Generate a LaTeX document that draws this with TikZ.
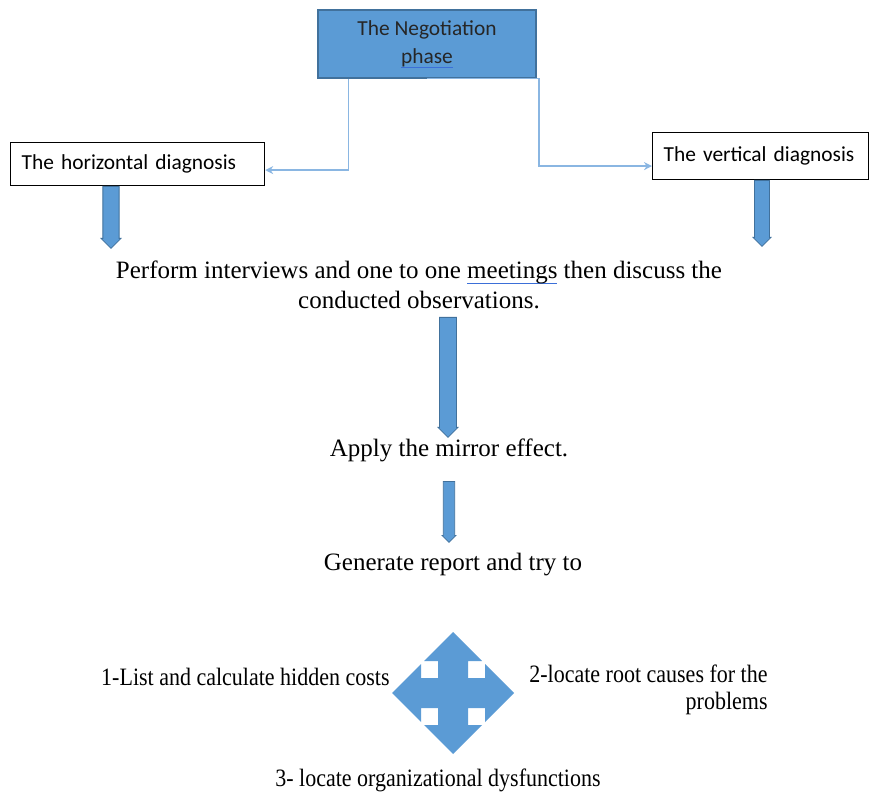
\documentclass[tikz,border=0pt]{standalone}
\usepackage{fontspec}
\setmainfont{Liberation Serif}
\newfontfamily\boxfont{Carlito}
\newfontfamily\narrowserif[FakeStretch=0.88]{Liberation Serif}
\usetikzlibrary{shapes.arrows, arrows.meta}
\usetikzlibrary{positioning}
\usepackage{xcolor}
\definecolor{officeblue}{HTML}{5B9BD5}
\definecolor{officeedge}{HTML}{41719C}
\definecolor{linkblue}{HTML}{8AB6E2}
\definecolor{spellblue}{HTML}{3B6FD8}
\newsavebox{\spellbox}
\newcommand{\spellmark}[1]{\sbox{\spellbox}{#1}\rlap{\textcolor{spellblue}{\rule[-0.45ex]{\wd\spellbox}{0.6pt}}}\usebox{\spellbox}}

\begin{document}
\begin{tikzpicture}[x=0.5pt, y=-0.5pt, >=Stealth,
  phase/.style={draw=officeedge, fill=officeblue, line width=0.6pt, minimum width=109pt, minimum height=34pt,
    font=\boxfont\fontsize{10.7}{14}\selectfont, align=center, text=black!85},
  diagnosis/.style={draw=black, fill=white, line width=0.6pt, font=\boxfont\fontsize{10.7}{13}\selectfont,
    align=left, inner xsep=5.5pt, anchor=north west},
  link/.style={draw=linkblue, line width=0.9pt, -{Stealth[length=4pt,width=4pt]}},
  block arrow/.style={shape=single arrow, draw=officeedge, fill=officeblue, line width=0.4pt, rotate=-90,
    inner xsep=0pt, single arrow tip angle=90, single arrow head extend=0.5pt, anchor=tail},
  plain/.style={font=\fontsize{12.5}{15}\selectfont, align=center, inner sep=0pt},
  narrow/.style={plain, font=\narrowserif\fontsize{12.5}{13.5}\selectfont}]

\useasboundingbox (0,0) rectangle (869,797);

% Boxes
\node [phase] (negotiation) at (427,44) {The Negotiation\\\spellmark{phase}};
\node [diagnosis, text width=116pt, minimum height=21.5pt] (horizontal) at (10,142) {The horizontal diagnosis};
\node [diagnosis, text width=97pt, minimum height=23.5pt] (vertical) at (652,132) {The vertical diagnosis\\[-4pt]};

% Steps
\node [plain] (interviews) at (419,285) {Perform interviews and one to one \spellmark{meetings} then discuss the\\conducted observations.};
\node [plain] (mirror) at (449,450) {Apply the mirror effect.};
\node [plain] (report) at (453,565) {Generate report and try to};
\node [narrow, anchor=east] (costs) at (390,677) {1-List and calculate hidden costs};
\node [narrow, anchor=east, align=right] (causes) at (768,690) {2-locate root causes for the\\problems};
\node [narrow] (dysfunctions) at (438,780) {3- locate organizational dysfunctions};

% Links from the negotiation phase
\draw [link] ([xshift=15.5pt]negotiation.south west) |- ([yshift=-3pt]horizontal.east);
\draw [link] (negotiation.south) -- ([xshift=1pt]negotiation.south east) |- ([yshift=-5pt]vertical.west);

% Block arrows
\foreach \n/\x/\y/\len/\shaft/\head in {hdown/111/186/31/2/10, vdown/762/180/33/2.2/9,
    mirrordown/448/317/60/2.7/10, reportdown/449/481/30.5/2/7}
  \node [block arrow, inner ysep=\shaft pt, minimum height=\len pt, minimum width=\head pt] (\n) at (\x,\y) {};

% Four-way arrow
\coordinate (quad) at (453,693);
\fill [officeblue, shift={(quad)}] (0,-61) -- (-29,-32) -- (-15,-32) -- (-15,-15) -- (-32,-15) -- (-32,-29)
  -- (-61,0) -- (-32,29) -- (-32,15) -- (-15,15) -- (-15,32) -- (-29,32)
  -- (0,61) -- (29,32) -- (15,32) -- (15,15) -- (32,15) -- (32,29)
  -- (61,0) -- (32,-29) -- (32,-15) -- (15,-15) -- (15,-32) -- (29,-32) -- cycle;

\end{tikzpicture}
\end{document}
